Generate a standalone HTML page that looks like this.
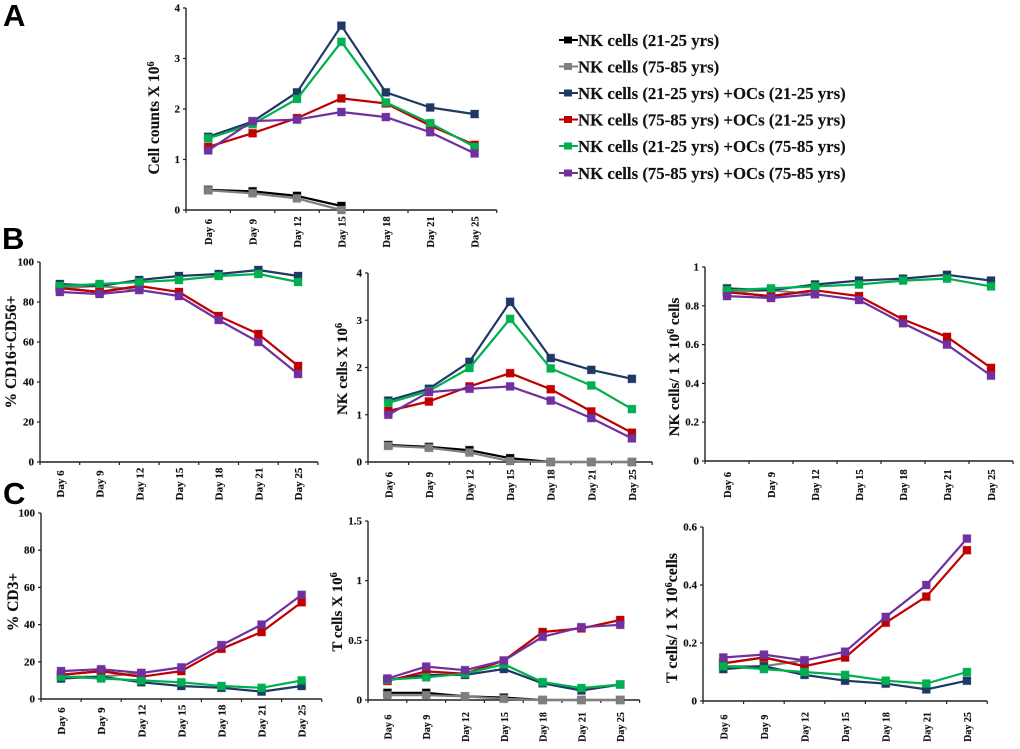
<!DOCTYPE html>
<html lang="en">
<head>
<meta charset="utf-8">
<title>NK and T cell time course panels</title>
<style>
html,body{margin:0;padding:0;background:#fff;}
svg{display:block;}
text{font-family:"Liberation Serif",serif;font-weight:bold;fill:#111;stroke:#111;stroke-width:0.15;}
.panel-letter{font-family:"Liberation Sans",sans-serif;font-size:31px;fill:#000;stroke:none;}
.legend-text{font-size:16.8px;}
</style>
</head>
<body>
<svg id="figure" xmlns="http://www.w3.org/2000/svg" width="1020" height="749" viewBox="0 0 1020 749">
  <rect x="0" y="0" width="1020" height="749" fill="#ffffff"/>
  <text class="panel-letter" x="3" y="26">A</text>
  <text class="panel-letter" x="2" y="249">B</text>
  <text class="panel-letter" x="3" y="504">C</text>
  <g id="legend">
    <g>
      <line x1="559" x2="578" y1="40" y2="40" stroke="#000000" stroke-width="2"/>
      <rect x="564" y="36.5" width="8" height="7" fill="#000000"/>
      <text class="legend-text" x="578" y="46">NK cells (21-25 yrs)</text>
    </g>
    <g>
      <line x1="559" x2="578" y1="66.5" y2="66.5" stroke="#7f7f7f" stroke-width="2"/>
      <rect x="564" y="63" width="8" height="7" fill="#7f7f7f"/>
      <text class="legend-text" x="578" y="72.5">NK cells (75-85 yrs)</text>
    </g>
    <g>
      <line x1="559" x2="578" y1="93" y2="93" stroke="#1f3864" stroke-width="2"/>
      <rect x="564" y="89.5" width="8" height="7" fill="#1f3864"/>
      <text class="legend-text" x="578" y="99">NK cells (21-25 yrs) +OCs (21-25 yrs)</text>
    </g>
    <g>
      <line x1="559" x2="578" y1="119.5" y2="119.5" stroke="#c00000" stroke-width="2"/>
      <rect x="564" y="116" width="8" height="7" fill="#c00000"/>
      <text class="legend-text" x="578" y="125.5">NK cells (75-85 yrs) +OCs (21-25 yrs)</text>
    </g>
    <g>
      <line x1="559" x2="578" y1="146" y2="146" stroke="#00b050" stroke-width="2"/>
      <rect x="564" y="142.5" width="8" height="7" fill="#00b050"/>
      <text class="legend-text" x="578" y="152">NK cells (21-25 yrs) +OCs (75-85 yrs)</text>
    </g>
    <g>
      <line x1="559" x2="578" y1="173" y2="173" stroke="#7030a0" stroke-width="2"/>
      <rect x="564" y="169.5" width="8" height="7" fill="#7030a0"/>
      <text class="legend-text" x="578" y="179">NK cells (75-85 yrs) +OCs (75-85 yrs)</text>
    </g>
  </g>
</svg>
<script>
const categories = ["Day 6", "Day 9", "Day 12", "Day 15", "Day 18", "Day 21", "Day 25"];
const seriesKeys = ["nk-young", "nk-old", "nk-young-oc-young", "nk-old-oc-young", "nk-young-oc-old", "nk-old-oc-old"];
const seriesColors = ["#000000", "#7f7f7f", "#1f3864", "#c00000", "#00b050", "#7030a0"];

// Panel A: cell counts
const countsBlack = [0.40, 0.37, 0.28, 0.08, null, null, null];
const countsGray = [0.39, 0.33, 0.23, 0.00, null, null, null];
const countsNavy = [1.45, 1.75, 2.33, 3.65, 2.33, 2.03, 1.90];
const countsRed = [1.25, 1.52, 1.82, 2.21, 2.11, 1.67, 1.29];
const countsGreen = [1.42, 1.70, 2.20, 3.33, 2.13, 1.72, 1.25];
const countsPurple = [1.18, 1.76, 1.79, 1.94, 1.84, 1.54, 1.12];
const countsTicks = ["0", "1", "2", "3", "4"];

// Panel B left: % CD16+CD56+
const cd56Black = [87, 85, 88, null, null, null, null];
const cd56Gray = [87, 88, 86, null, null, null, null];
const cd56Navy = [89, 88, 91, 93, 94, 96, 93];
const cd56Red = [87, 85, 88, 85, 73, 64, 48];
const cd56Green = [88, 89, 90, 91, 93, 94, 90];
const cd56Purple = [85, 84, 86, 83, 71, 60, 44];
const cd56Ticks = ["0", "20", "40", "60", "80", "100"];

// Panel B middle: NK cells
const nkBlack = [0.36, 0.32, 0.25, 0.08, 0, 0, 0];
const nkGray = [0.34, 0.30, 0.20, 0.02, 0, 0, 0];
const nkNavy = [1.30, 1.55, 2.12, 3.39, 2.20, 1.95, 1.76];
const nkRed = [1.08, 1.28, 1.60, 1.88, 1.54, 1.07, 0.62];
const nkGreen = [1.25, 1.50, 1.99, 3.03, 1.98, 1.62, 1.12];
const nkPurple = [1.00, 1.48, 1.55, 1.60, 1.30, 0.93, 0.50];
const nkTicks = ["0", "1", "2", "3", "4"];

// Panel B right: NK cells per million
const nkPerBlack = [0.87, 0.85, 0.88, null, null, null, null];
const nkPerGray = [0.87, 0.88, 0.86, null, null, null, null];
const nkPerNavy = [0.89, 0.88, 0.91, 0.93, 0.94, 0.96, 0.93];
const nkPerRed = [0.87, 0.85, 0.88, 0.85, 0.73, 0.64, 0.48];
const nkPerGreen = [0.88, 0.89, 0.90, 0.91, 0.93, 0.94, 0.90];
const nkPerPurple = [0.85, 0.84, 0.86, 0.83, 0.71, 0.60, 0.44];
const nkPerTicks = ["0", "0.2", "0.4", "0.6", "0.8", "1"];

// Panel C left: % CD3+
const cd3Black = [13, 15, 12, null, null, null, null];
const cd3Gray = [12, 12, 14, null, null, null, null];
const cd3Navy = [11, 12, 9, 7, 6, 4, 7];
const cd3Red = [13, 15, 12, 15, 27, 36, 52];
const cd3Green = [12, 11, 10, 9, 7, 6, 10];
const cd3Purple = [15, 16, 14, 17, 29, 40, 56];
const cd3Ticks = ["0", "20", "40", "60", "80", "100"];

// Panel C middle: T cells
const tBlack = [0.06, 0.06, 0.03, 0.02, 0, 0, 0];
const tGray = [0.04, 0.04, 0.03, 0.01, 0, 0, 0];
const tNavy = [0.17, 0.21, 0.21, 0.26, 0.14, 0.08, 0.13];
const tRed = [0.16, 0.24, 0.22, 0.33, 0.57, 0.60, 0.67];
const tGreen = [0.17, 0.19, 0.22, 0.30, 0.15, 0.10, 0.13];
const tPurple = [0.18, 0.28, 0.25, 0.33, 0.53, 0.61, 0.63];
const tTicks = ["0", "0.5", "1", "1.5"];

// Panel C right: T cells per million
const tPerBlack = [0.13, 0.15, 0.12, null, null, null, null];
const tPerGray = [0.12, 0.12, 0.14, null, null, null, null];
const tPerNavy = [0.11, 0.12, 0.09, 0.07, 0.06, 0.04, 0.07];
const tPerRed = [0.13, 0.15, 0.12, 0.15, 0.27, 0.36, 0.52];
const tPerGreen = [0.12, 0.11, 0.10, 0.09, 0.07, 0.06, 0.10];
const tPerPurple = [0.15, 0.16, 0.14, 0.17, 0.29, 0.40, 0.56];
const tPerTicks = ["0", "0.2", "0.4", "0.6"];

const panels = [
  {name: "cell-counts", left: 186, band: 44.4, top: 8, bottom: 210, max: 4, ticks: countsTicks,
   series: [countsBlack, countsGray, countsNavy, countsRed, countsGreen, countsPurple],
   title: "Cell counts X 10", sup: "6", after: "", tx: 159, ty: 118, tsize: 15.5, dayY: 232, daySize: 10.5},
  {name: "cd16-cd56-percent", left: 40, band: 39.7, top: 262, bottom: 462, max: 100, ticks: cd56Ticks,
   series: [cd56Black, cd56Gray, cd56Navy, cd56Red, cd56Green, cd56Purple],
   title: "% CD16+CD56+", sup: "", after: "", tx: 16, ty: 352, tsize: 15.5, dayY: 484, daySize: 11},
  {name: "nk-cells", left: 368, band: 40.6, top: 273, bottom: 462, max: 4, ticks: nkTicks,
   series: [nkBlack, nkGray, nkNavy, nkRed, nkGreen, nkPurple],
   title: "NK cells X 10", sup: "6", after: "", tx: 347, ty: 369, tsize: 15, dayY: 485, daySize: 10.5},
  {name: "nk-cells-per-million", left: 705, band: 44, top: 267, bottom: 461, max: 1, ticks: nkPerTicks,
   series: [nkPerBlack, nkPerGray, nkPerNavy, nkPerRed, nkPerGreen, nkPerPurple],
   title: "NK cells/ 1 X 10", sup: "6", after: " cells", tx: 679, ty: 367, tsize: 15, dayY: 485, daySize: 10.5},
  {name: "cd3-percent", left: 41, band: 40.1, top: 513, bottom: 699, max: 100, ticks: cd3Ticks,
   series: [cd3Black, cd3Gray, cd3Navy, cd3Red, cd3Green, cd3Purple],
   title: "% CD3+", sup: "", after: "", tx: 18, ty: 602, tsize: 15.5, dayY: 721, daySize: 11},
  {name: "t-cells", left: 368, band: 38.8, top: 521, bottom: 700, max: 1.5, ticks: tTicks,
   series: [tBlack, tGray, tNavy, tRed, tGreen, tPurple],
   title: "T cells X 10", sup: "6", after: "", tx: 342, ty: 612, tsize: 15, dayY: 727, daySize: 10},
  {name: "t-cells-per-million", left: 703, band: 40.6, top: 527, bottom: 701, max: 0.6, ticks: tPerTicks,
   series: [tPerBlack, tPerGray, tPerNavy, tPerRed, tPerGreen, tPerPurple],
   title: "T cells/ 1 X 10", sup: "6", after: "cells", tx: 677, ty: 618, tsize: 16, dayY: 727, daySize: 10}
];

const NS = "http://www.w3.org/2000/svg";
const figure = document.getElementById("figure");

function make(tag, parent, attrs) {
  const el = document.createElementNS(NS, tag);
  for (const k in attrs) el.setAttribute(k, attrs[k]);
  parent.appendChild(el);
  return el;
}

function drawPanel(p) {
  const xScale = i => p.left + (i + 0.5) * p.band;
  const yScale = v => p.bottom - (v / p.max) * (p.bottom - p.top);
  const right = p.left + p.band * categories.length;

  const g = make("g", figure, {});
  
  

  const yAxis = make("line", g, {x1: p.left, x2: p.left, y1: p.top, y2: p.bottom, stroke: "#222", "stroke-width": 1.4});
  
  

  const xAxis = make("line", g, {x1: p.left, x2: right, y1: p.bottom, y2: p.bottom, stroke: "#222", "stroke-width": 1.4});
  
  

  p.ticks.forEach(function (label) {
    const y = yScale(parseFloat(label));
    const tick = make("line", g, {x1: p.left - 3, x2: p.left, y1: y, y2: y, stroke: "#222", "stroke-width": 1.2});
    
    
    const text = make("text", g, {x: p.left - 6, y: y + 3.5, "text-anchor": "end", "font-size": 11});
    text.textContent = label;
    
    
  });

  for (let i = 0; i <= categories.length; i++) {
    const x = p.left + i * p.band;
    const tick = make("line", g, {x1: x, x2: x, y1: p.bottom, y2: p.bottom + 3, stroke: "#222", "stroke-width": 1.2});
    
    
  }

  categories.forEach(function (label, i) {
    const x = xScale(i) + 4;
    const text = make("text", g, {x: x, y: p.dayY, "text-anchor": "middle", "font-size": p.daySize, transform: "rotate(-90 " + x + " " + p.dayY + ")"});
    text.textContent = label;
    
    
  });

  const title = make("text", g, {x: p.tx, y: p.ty, "text-anchor": "middle", "font-size": p.tsize, transform: "rotate(-90 " + p.tx + " " + p.ty + ")"});
  
  
  title.appendChild(document.createTextNode(p.title));
  if (p.sup) {
    const sup = make("tspan", title, {"baseline-shift": "super", "font-size": 10});
    sup.textContent = p.sup;
  }
  if (p.after) {
    title.appendChild(document.createTextNode(p.after));
  }

  p.series.forEach(function (values, s) {
    const color = seriesColors[s];
    const sg = make("g", g, {});
    
    
    const pts = [];
    values.forEach(function (v, i) {
      if (v !== null) pts.push(xScale(i).toFixed(1) + "," + yScale(v).toFixed(1));
    });
    const line = make("polyline", sg, {points: pts.join(" "), fill: "none", stroke: color, "stroke-width": 2.2, "stroke-linejoin": "round"});
    
    
    values.forEach(function (v, i) {
      if (v === null) return;
      const mark = make("rect", sg, {x: xScale(i) - 4, y: yScale(v) - 4, width: 8, height: 8, fill: color, stroke: color, "stroke-opacity": 0.3, "stroke-width": 1});
      
      
    });
  });
}

panels.forEach(drawPanel);
</script>
</body>
</html>
